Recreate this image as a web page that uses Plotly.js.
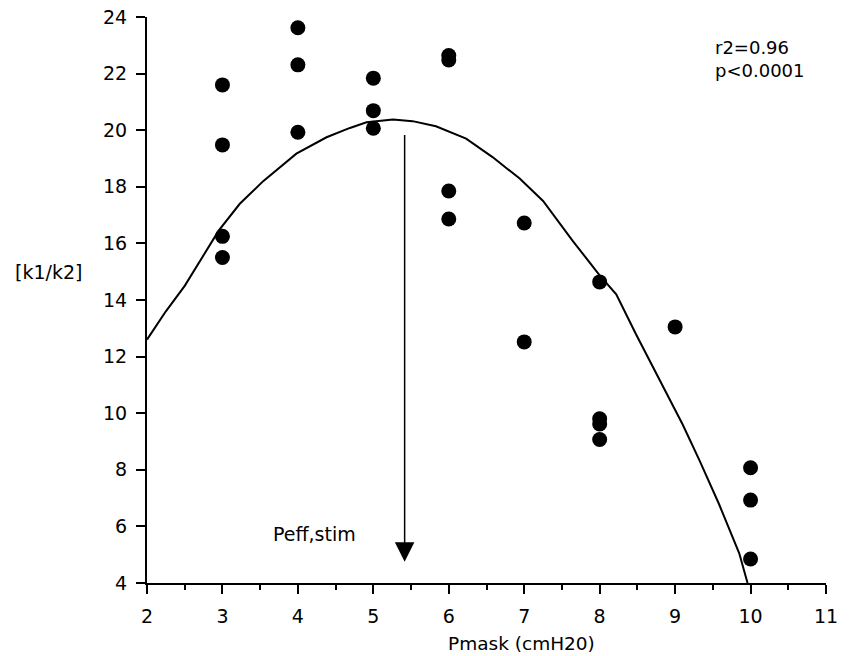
<!DOCTYPE html>
<html>
<head>
<meta charset="utf-8">
<script src="https://cdn.plot.ly/plotly-3.0.1.min.js"></script>
<style>html,body{margin:0;padding:0;background:#fff;}#chart{width:852px;height:656px;}</style>
</head>
<body>
<div id="chart"></div>
<script>
// Measured points: Pmask (cmH2O) vs [k1/k2]
var pointsX = [3, 3, 3, 3, 4, 4, 4, 5, 5, 5, 6, 6, 6, 6, 7, 7, 8, 8, 8, 8, 9, 10, 10, 10];
var pointsY = [21.6, 19.48, 16.25, 15.5, 23.62, 22.31, 19.93, 21.84, 20.69, 20.07,
               22.64, 22.48, 17.85, 16.86, 16.72, 12.52, 14.64, 9.8, 9.62, 9.07,
               13.05, 8.07, 6.93, 4.85];

// Fitted curve (as drawn)
var curveX = [2.0, 2.25, 2.5, 2.75, 2.95, 3.23, 3.54, 3.98, 4.38, 4.69, 4.91, 5.26, 5.52,
              5.83, 6.23, 6.58, 6.94, 7.25, 7.64, 8.0, 8.22, 8.48, 8.79, 9.1, 9.32, 9.58,
              9.85, 9.96];
var curveY = [12.6, 13.6, 14.5, 15.6, 16.45, 17.4, 18.2, 19.17, 19.75, 20.08, 20.28, 20.38,
              20.32, 20.14, 19.7, 19.05, 18.29, 17.5, 16.1, 14.87, 14.2, 12.8, 11.2, 9.6,
              8.35, 6.8, 5.05, 4.0];

// Arrow marking Peff,stim
var arrowX = 5.415;
var arrowTopY = 19.88;
var arrowTipY = 4.75;

var xTicks = [2, 3, 4, 5, 6, 7, 8, 9, 10, 11];
var yTicks = [4, 6, 8, 10, 12, 14, 16, 18, 20, 22, 24];

var FONT = 'DejaVu Sans, Verdana, sans-serif';
var FS = 19;

var traces = [
  {
    x: curveX, y: curveY, type: 'scatter', mode: 'lines',
    line: {color: '#000', width: 2, shape: 'linear'},
    hoverinfo: 'skip', cliponaxis: true
  },
  {
    x: pointsX, y: pointsY, type: 'scatter', mode: 'markers',
    marker: {color: '#000', size: 15, line: {width: 0}},
    cliponaxis: false
  }
];

var layout = {
  width: 852, height: 656,
  margin: {l: 147, r: 26, t: 17, b: 73},
  paper_bgcolor: '#fff', plot_bgcolor: '#fff',
  showlegend: false,
  font: {family: FONT, size: FS, color: '#000'},
  xaxis: {
    range: [2, 11], tickvals: xTicks, ticktext: xTicks.map(String),
    showgrid: false, zeroline: false,
    showline: true, linecolor: '#000', linewidth: 2,
    ticks: 'outside', ticklen: 9, tickwidth: 2, tickcolor: '#000',
    tickfont: {family: FONT, size: FS, color: '#000'},
    ticklabelstandoff: 6,
    minor: {dtick: 0.5, tick0: 2, ticks: 'outside', ticklen: 5, tickwidth: 2, tickcolor: '#000', showgrid: false}
  },
  yaxis: {
    range: [4, 24], tickvals: yTicks, ticktext: yTicks.map(String),
    showgrid: false, zeroline: false,
    showline: true, linecolor: '#000', linewidth: 2,
    ticks: 'outside', ticklen: 9, tickwidth: 2, tickcolor: '#000',
    tickfont: {family: FONT, size: FS, color: '#000'},
    ticklabelstandoff: 5
  },
  annotations: [
    {
      x: arrowX, y: arrowTipY, xref: 'x', yref: 'y',
      ax: arrowX, ay: arrowTopY, axref: 'x', ayref: 'y',
      text: '', showarrow: true, arrowhead: 2, arrowsize: 2.6, arrowwidth: 1.5,
      arrowcolor: '#000', standoff: 0, startstandoff: 0
    },
    {
      x: 4.22, y: 5.73, xref: 'x', yref: 'y', text: 'Peff,stim', showarrow: false,
      xanchor: 'center', yanchor: 'middle', font: {family: FONT, size: FS, color: '#000'}
    },
    {
      x: 9.51, y: 23.34, xref: 'x', yref: 'y', text: 'r2=0.96<br>p<0.0001', showarrow: false,
      xanchor: 'left', yanchor: 'top', align: 'left', borderpad: 0,
      font: {family: FONT, size: 18, color: '#000'}
    },
    {
      x: -0.1458, y: 15, xref: 'paper', yref: 'y', text: '[k1/k2]', showarrow: false,
      xanchor: 'center', yanchor: 'middle', font: {family: FONT, size: FS, color: '#000'}
    },
    {
      x: 6.96, y: 0, xref: 'x', yref: 'paper', text: 'Pmask (cmH20)', showarrow: false,
      xanchor: 'center', yanchor: 'top', yshift: -49, borderpad: 0,
      font: {family: FONT, size: 18.5, color: '#000'}
    }
  ]
};

Plotly.newPlot('chart', traces, layout, {displayModeBar: false, staticPlot: true});
</script>
</body>
</html>
